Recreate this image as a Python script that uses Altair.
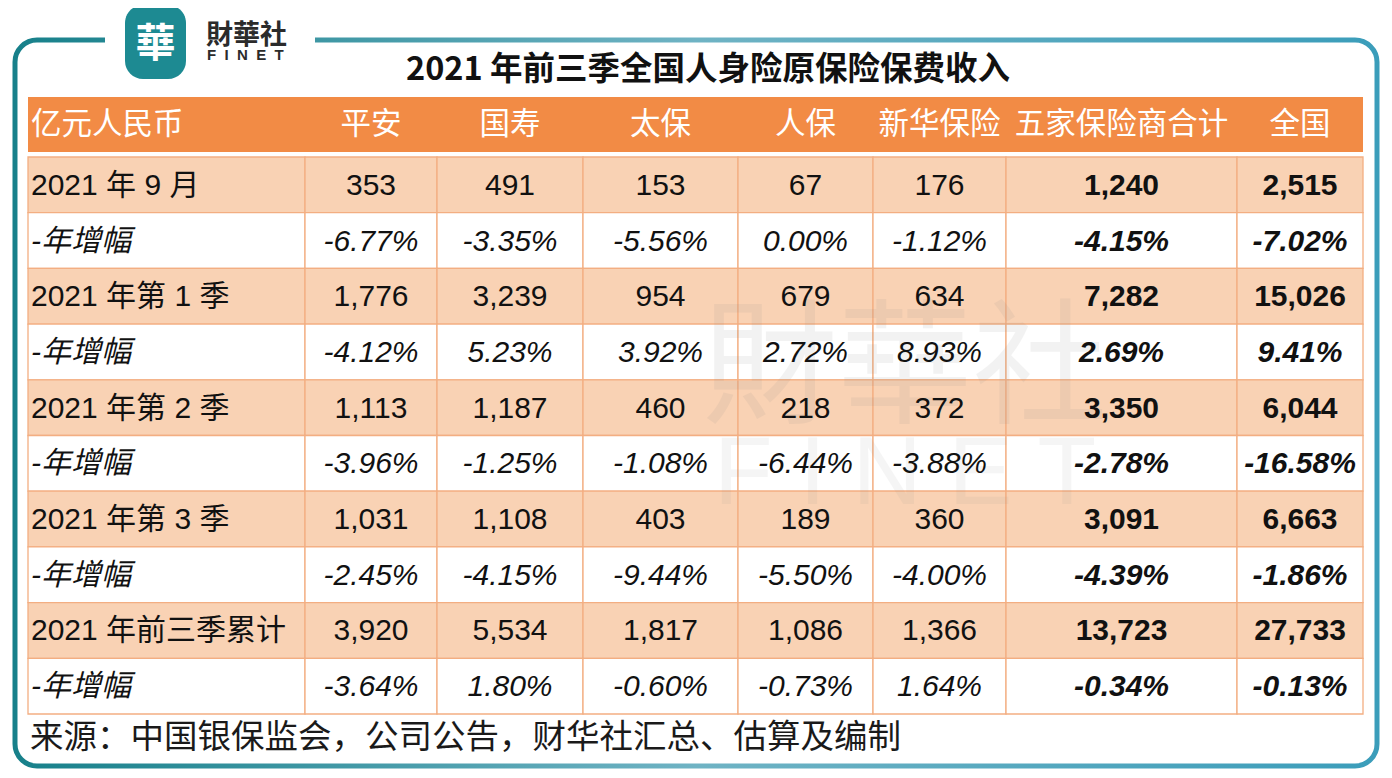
import altair as alt
import pandas as pd

# ---------------- data ----------------
title_text = "2021 年前三季全国人身险原保险保费收入"
source_text = "来源：中国银保监会，公司公告，财华社汇总、估算及编制"
unit_label = "亿元人民币"
companies = ["平安", "国寿", "太保", "人保", "新华保险", "五家保险商合计", "全国"]
periods = ["2021 年 9 月", "2021 年第 1 季", "2021 年第 2 季", "2021 年第 3 季", "2021 年前三季累计"]
growth_label = "-年增幅"

pingan_value = [353, 1776, 1113, 1031, 3920]
pingan_growth = [-6.77, -4.12, -3.96, -2.45, -3.64]
guoshou_value = [491, 3239, 1187, 1108, 5534]
guoshou_growth = [-3.35, 5.23, -1.25, -4.15, 1.80]
taibao_value = [153, 954, 460, 403, 1817]
taibao_growth = [-5.56, 3.92, -1.08, -9.44, -0.60]
renbao_value = [67, 679, 218, 189, 1086]
renbao_growth = [0.00, 2.72, -6.44, -5.50, -0.73]
xinhua_value = [176, 634, 372, 360, 1366]
xinhua_growth = [-1.12, 8.93, -3.88, -4.00, 1.64]
five_value = [1240, 7282, 3350, 3091, 13723]
five_growth = [-4.15, 2.69, -2.78, -4.39, -0.34]
national_value = [2515, 15026, 6044, 6663, 27733]
national_growth = [-7.02, 9.41, -16.58, -1.86, -0.13]

value_cols = [pingan_value, guoshou_value, taibao_value, renbao_value,
              xinhua_value, five_value, national_value]
growth_cols = [pingan_growth, guoshou_growth, taibao_growth, renbao_growth,
               xinhua_growth, five_growth, national_growth]

# ---------------- layout ----------------
W, H = 1376, 762
col_edges = [28, 305, 437, 583, 738, 873, 1006, 1237, 1363]
header_top, header_bot = 97, 152
row_top, row_h = 157, 55.7
n_rows = 2 * len(periods)

ORANGE = "#F28B45"
PEACH = "#F9D2B4"
GRID = "#F3AE82"
TEAL = "#1D8A92"
CJK = "Noto Sans CJK SC"
NUMF = "Liberation Sans, Noto Sans CJK SC"

xs = alt.Scale(domain=[8, 8 + W], nice=False, zero=False)
ys = alt.Scale(domain=[8, 8 + H], nice=False, zero=False, reverse=True)


def X(f="x"):
    return alt.X(f"{f}:Q", scale=xs, axis=None)


def Y(f="y"):
    return alt.Y(f"{f}:Q", scale=ys, axis=None)


def rect_layer(df, **kw):
    return alt.Chart(df).mark_rect(**kw).encode(
        x=X("x"), x2=alt.X2("x2"), y=Y("y"), y2=alt.Y2("y2"))


def text_layer(df, **kw):
    return alt.Chart(df).mark_text(baseline="middle", **kw).encode(
        x=X("x"), y=Y("y"), text=alt.Text("t:N"))


# frame
frame = rect_layer(pd.DataFrame([{"x": 15, "x2": 1377, "y": 40, "y2": 766}]),
                   fill="transparent", strokeWidth=5, cornerRadius=22,
                   stroke=alt.Gradient(gradient="linear",
                                       stops=[alt.GradientStop(color="#17808A", offset=0),
                                              alt.GradientStop(color="#6FB3C4", offset=0.5),
                                              alt.GradientStop(color="#3B9DBA", offset=1)],
                                       x1=0, x2=1, y1=0, y2=0))
gap = rect_layer(pd.DataFrame([{"x": 105, "x2": 315, "y": 34, "y2": 47}]), fill="white")

# logo
logo_box = rect_layer(pd.DataFrame([{"x": 125, "x2": 186, "y": 5, "y2": 79}]),
                      fill=TEAL, cornerRadius=18)
logo_char = text_layer(pd.DataFrame([{"x": 155.5, "y": 45, "t": "華"}]),
                       font="Noto Sans CJK TC", fontSize=40, fontWeight="bold",
                       color="white", align="center")
logo_name = text_layer(pd.DataFrame([{"x": 206, "y": 36, "t": "財華社"}]),
                       font="Noto Sans CJK TC", fontSize=27, fontWeight="bold",
                       color="#2b2b2b", align="left")
logo_en = text_layer(pd.DataFrame([{"x": 207, "y": 55, "t": "F\u00a0\u00a0I\u00a0\u00a0N\u00a0\u00a0E\u00a0\u00a0T"}]),
                     font="Liberation Sans", fontSize=15, fontWeight="bold",
                     color="#2b2b2b", align="left")

title = text_layer(pd.DataFrame([{"x": 708, "y": 70, "t": title_text}]),
                   font=CJK, fontSize=32.5, fontWeight="bold", color="#111", align="center")

# header
header_rect = rect_layer(pd.DataFrame([{"x": col_edges[0], "x2": col_edges[-1],
                                        "y": header_top, "y2": header_bot}]), fill=ORANGE)
hy = (header_top + header_bot) / 2
header_left = text_layer(pd.DataFrame([{"x": 31, "y": hy, "t": unit_label}]),
                         font=CJK, fontSize=30.5, color="white", align="left")
header_center = text_layer(pd.DataFrame([
    {"x": (col_edges[i + 1] + col_edges[i + 2]) / 2, "y": hy, "t": c}
    for i, c in enumerate(companies)]), font=CJK, fontSize=30.5, color="white", align="center")

# cells
cells = []
for r in range(n_rows):
    for c in range(len(col_edges) - 1):
        cells.append({"x": col_edges[c], "x2": col_edges[c + 1],
                      "y": row_top + r * row_h, "y2": row_top + (r + 1) * row_h,
                      "fill": PEACH if r % 2 == 0 else "#FFFFFF"})
cells_df = pd.DataFrame(cells)
cell_layer = alt.Chart(cells_df).mark_rect(stroke=GRID, strokeWidth=1.3).encode(
    x=X("x"), x2=alt.X2("x2"), y=Y("y"), y2=alt.Y2("y2"),
    fill=alt.Fill("fill:N", scale=None))

# watermark
wm1 = text_layer(pd.DataFrame([{"x": 905, "y": 372, "t": "財華社"}]),
                 font="Noto Sans CJK TC", fontSize=135, color="#8a8a8a",
                 opacity=0.10, align="center")
wm2 = text_layer(pd.DataFrame([{"x": 905, "y": 475, "t": "F I N E T"}]),
                 font="Liberation Sans", fontSize=96, color="#8a8a8a",
                 opacity=0.08, align="center")


# texts
def ry(r):
    return row_top + (r + 0.5) * row_h + 1


label_rows = pd.DataFrame([{"x": 31, "y": ry(2 * i), "t": p} for i, p in enumerate(periods)])
growth_rows = pd.DataFrame([{"x": 31, "y": ry(2 * i + 1), "t": growth_label} for i in range(len(periods))])

vals_norm, vals_bold, gr_norm, gr_bold = [], [], [], []
for ci, (vals, grs) in enumerate(zip(value_cols, growth_cols)):
    cx = (col_edges[ci + 1] + col_edges[ci + 2]) / 2
    bold = ci >= 5
    for i, (v, g) in enumerate(zip(vals, grs)):
        (vals_bold if bold else vals_norm).append({"x": cx, "y": ry(2 * i), "t": f"{v:,}"})
        (gr_bold if bold else gr_norm).append({"x": cx, "y": ry(2 * i + 1), "t": f"{g:.2f}%"})

t_labels = text_layer(label_rows, font=NUMF, fontSize=30, color="#111", align="left")
t_growth_lab = text_layer(growth_rows, font=NUMF, fontSize=30, fontStyle="italic",
                          color="#111", align="left")
t_vals = text_layer(pd.DataFrame(vals_norm), font=NUMF, fontSize=30, color="#111", align="center")
t_vals_b = text_layer(pd.DataFrame(vals_bold), font=NUMF, fontSize=30, fontWeight="bold",
                      color="#111", align="center")
t_gr = text_layer(pd.DataFrame(gr_norm), font=NUMF, fontSize=30, fontStyle="italic",
                  color="#111", align="center")
t_gr_b = text_layer(pd.DataFrame(gr_bold), font=NUMF, fontSize=30, fontStyle="italic",
                    fontWeight="bold", color="#111", align="center")

source = text_layer(pd.DataFrame([{"x": 30, "y": 738, "t": source_text}]),
                    font=CJK, fontSize=33.5, color="#1a1a1a", align="left")

chart = alt.layer(
    frame, gap, logo_box, logo_char, logo_name, logo_en, title,
    header_rect, header_left, header_center, cell_layer, wm1, wm2,
    t_labels, t_growth_lab, t_vals, t_vals_b, t_gr, t_gr_b, source
).properties(width=W, height=H, padding=0, autosize="none", background="white"
).configure_view(stroke=None)

chart.save("out.html", embed_options={"renderer": "svg", "actions": False})
